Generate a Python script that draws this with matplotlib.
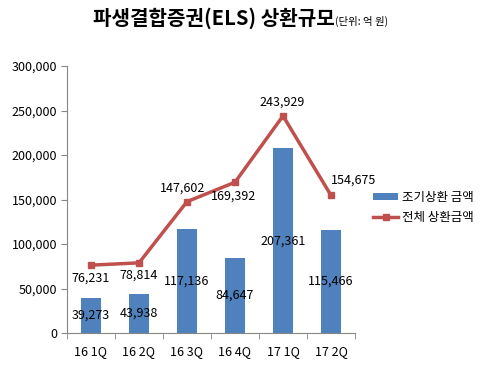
import matplotlib
matplotlib.use("Agg")
import matplotlib.pyplot as plt
import numpy as np

plt.rcParams['font.family'] = ['Noto Sans CJK KR', 'DejaVu Sans']

categories = ["16 1Q", "16 2Q", "16 3Q", "16 4Q", "17 1Q", "17 2Q"]
early = [39273, 43938, 117136, 84647, 207361, 115466]
total = [76231, 78814, 147602, 169392, 243929, 154675]

fig = plt.figure(figsize=(4.8, 3.72), dpi=100)
ax = fig.add_axes([67/480, 1-333/372, 288/480, 267/372])
x = np.arange(len(categories))
bars = ax.bar(x, early, width=0.4, color="#4F81BD", label="조기상환 금액", zorder=2)
line, = ax.plot(x, total, color="#C0504D", lw=2.5, marker="s", ms=4, label="전체 상환금액", zorder=3)

ax.set_xlim(-0.5, len(categories)-0.5)
ax.set_ylim(0, 300000)
ax.set_yticks(np.arange(0, 300001, 50000))
ax.set_yticklabels([f"{v:,}" for v in range(0, 300001, 50000)], fontsize=9)
ax.set_xticks(x)
ax.set_xticklabels(categories, fontsize=9)
ax.set_xticks(np.arange(-0.5, len(categories)), minor=True)
ax.tick_params(axis='x', which='major', length=0, pad=9)
ax.tick_params(axis='x', which='minor', length=4, color="#868686")
ax.tick_params(axis='y', length=4, color="#868686", pad=3)
for s in ["top", "right"]:
    ax.spines[s].set_visible(False)
for s in ["left", "bottom"]:
    ax.spines[s].set_color("#868686")

for xi, v in zip(x, early):
    ax.text(xi, v/2, f"{v:,}", ha="center", va="center", fontsize=9, zorder=4)

offsets = [(0, -9), (0, -9), (-3, 10), (-1, -10), (-1, 10), (16, 11)]
for xi, v, (dx, dy) in zip(x, total, offsets):
    ax.annotate(f"{v:,}", (xi, v), xytext=(dx, dy), textcoords="offset points",
                ha="center", va="center", fontsize=9, zorder=4)

fig.text(335/480, 1-18/372, "파생결합증권(ELS) 상환규모", ha="right", va="center",
         fontsize=14.5, fontweight="bold")
fig.text(335/480, 1-21/372, "(단위: 억 원)", ha="left", va="center", fontsize=7.5)

ax.legend([bars, line], ["조기상환 금액", "전체 상환금액"],
          loc="upper left", bbox_to_anchor=(368/480, 1-186/372), bbox_transform=fig.transFigure,
          frameon=False, fontsize=9, handlelength=2.0, handleheight=0.5, borderaxespad=0,
          labelspacing=0.55, handletextpad=0.3)

fig.savefig("out.png", dpi=100)
